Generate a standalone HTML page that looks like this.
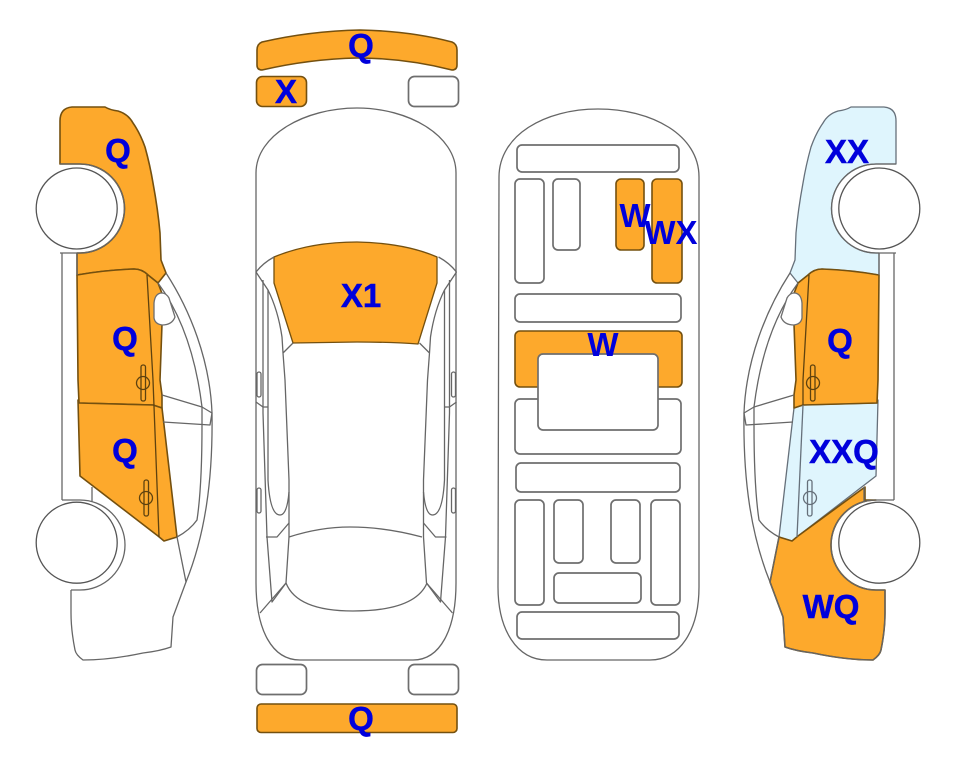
<!DOCTYPE html>
<html>
<head>
<meta charset="utf-8">
<style>
html,body{margin:0;padding:0;background:#fff;}
svg{display:block;}
text{font-family:"Liberation Sans",sans-serif;font-weight:bold;font-size:33px;fill:#0000dc;stroke:#0000dc;stroke-width:.5;text-anchor:middle;}
text.t{stroke-width:0;}
.l{fill:none;stroke:#666;stroke-width:1.3;stroke-linejoin:round;}
.w{fill:#fff;stroke:#6e6e6e;stroke-width:1.7;}
.o{fill:#fda92c;stroke:#74500f;stroke-width:1.6;stroke-linejoin:round;}
.b{fill:#dff5fd;stroke:#66707a;stroke-width:1.3;stroke-linejoin:round;}
.dk{fill:none;stroke:#5e420f;stroke-width:1.3;}
.gr{fill:none;stroke:#66707a;stroke-width:1.3;}
</style>
</head>
<body>
<svg width="963" height="768" viewBox="0 0 963 768" xmlns="http://www.w3.org/2000/svg">
<defs>
  <path id="fender" d="M60 164V121Q60 108 72 107L105 107Q110 110 118 111Q128 114 133 123Q140 133 145 147Q150 165 153 183Q158 210 160 233L161 260L166 273L158 283L148 275Q142 269 134 269Q105 270 77 275V253H80A44.5 44.5 0 0 0 80 164Z"/>
  <path id="door1" d="M77 275Q105 270 134 269Q142 269 148 275L158 283L163 296L160 380L162 395L162 408L153 405L79 403L78 380Z"/>
  <path id="door2" d="M79 403L153 405L162 408L164 425L177 537L164 541L158 536L80 476L78 400Z"/>
  <path id="quarter" d="M177 537L186 582L173 617L171 647Q160 651 143 653Q110 660 83 660Q76 655 75 650Q71 630 71 613V590H80A45 45 0 0 0 80 500H91V487L158 536L164 541Z" />
  <g id="handle1"><rect x="141" y="365" width="4.5" height="36" rx="2"/><circle cx="143" cy="383" r="6.5"/></g>
  <g id="handle2"><rect x="144" y="480" width="4.500" height="36" rx="2"/><circle cx="146" cy="498" r="6.500"/></g>
  <g id="sideart">
    <path class="l" d="M166 273C190 310 210 360 212 413C213 480 205 535 186 582"/>
    <path class="l" d="M158 283C178 310 195 350 202 407V425C202 470 200 500 197 520Q190 530 177 537"/>
    <path class="l" d="M177 537L186 582L173 617L171 647Q160 651 143 653Q110 660 83 660Q76 655 75 650Q71 630 71 613V590"/>
    <path class="l" d="M162 395L202 407L212 413L210 425L163 422"/>
    <path class="l" d="M92 487V502"/>
    <path class="l" d="M62 253V500M77 253V275"/>
    <path class="w" style="stroke-width:1.3" d="M154 303Q155 293 162 293Q166 293 169 298L175 317Q172 325 162 325Q155 324 154 318Z"/>
    <path class="l" d="M60 164H80A44.5 44.5 0 0 1 80 253H60"/>
    <path class="l" d="M62 500H80A45 45 0 0 1 80 590H71"/>
    <circle cx="76.700" cy="208.500" r="40.500" fill="#fff" stroke="#555" stroke-width="1.300"/>
    <circle cx="76.700" cy="542.700" r="40.500" fill="#fff" stroke="#555" stroke-width="1.300"/>
  </g>
  <g id="tophalf">
    <path class="l" d="M256 272Q263 263 274 257"/>
    <path class="l" d="M256 272L268 290Q278 310 282 337L283 353L293 343M283 353L285 380L289 480V537L286 583L260 613"/>
    <path class="l" d="M286 583L272 602L267 537L263 413V280"/>
    <path class="l" d="M268 290V480Q270 515 280 515Q287 515 289 492"/>
    <path class="l" d="M256 402L263 407H268"/>
    <path class="l" d="M266 537H277L289 523"/>
    <rect class="l" x="257" y="372" width="4" height="25" rx="2"/>
    <rect class="l" x="257" y="488" width="4" height="25" rx="2"/>
  </g>
</defs>

<!-- left car -->
<use href="#fender" class="o"/>
<use href="#door1" class="o"/>
<use href="#door2" class="o"/>
<path class="dk" d="M147 275L153 380L159 537"/>
<use href="#handle1" class="dk"/>
<use href="#handle2" class="dk"/>
<use href="#sideart"/>

<!-- right car -->
<g transform="matrix(-1 0 0 1 956 0)">
  <use href="#fender" class="b"/>
  <use href="#door2" class="b"/>
  <use href="#quarter" class="o"/>
  <use href="#door1" class="o"/>
  <path class="dk" d="M147 275L153 380L153 405"/>
  <path class="gr" d="M153 405L159 537"/>
  <use href="#handle1" class="dk"/>
  <use href="#handle2" class="gr"/>
  <use href="#sideart"/>
</g>

<!-- top view -->
<path class="o" d="M257 50Q257 44 262 42Q310 31 360 30Q410 31 452 42Q457 44 457 50V65Q457 70 452 70Q405 58 357 58Q310 59 262 70Q257 70 257 65Z"/>
<rect class="o" x="256.500" y="76.500" width="50" height="30" rx="6"/>
<rect class="w" x="408.500" y="76.500" width="50" height="30" rx="6"/>
<path class="l" d="M256 173C256 135 305 108 357 108C408 108 456 135 456 173V583C456 630 440 660 413 660H300C272 660 256 630 256 583Z"/>
<path class="o" style="stroke-width:1.3" d="M274 257Q310 242 357 242Q405 243 437 257V283L418 344Q390 342 357 342L293 343L274 283Z"/>
<use href="#tophalf"/>
<g transform="matrix(-1 0 0 1 712.500 0)"><use href="#tophalf"/></g>
<path class="l" d="M289 537Q320 527 350 527Q385 527 422 537"/>
<path class="l" d="M286 583Q297 611 353 611Q415 611 427 583"/>
<rect class="w" x="256.500" y="664.500" width="50" height="30" rx="6"/>
<rect class="w" x="408.500" y="664.500" width="50" height="30" rx="6"/>
<rect class="o" x="257" y="704" width="200" height="28.500" rx="4"/>

<!-- interior view -->
<path class="l" d="M499 177C499 135 545 109 598 109C652 109 699 135 699 177V587C699 630 680 660 650 660H547C517 660 498 630 498 587Z"/>
<rect class="w" x="517" y="145" width="162" height="27" rx="5"/>
<rect class="w" x="515" y="179" width="29" height="104" rx="5"/>
<rect class="w" x="553" y="179" width="27" height="71" rx="5"/>
<rect class="o" x="616" y="179" width="28" height="71" rx="5"/>
<rect class="o" x="652" y="179" width="30" height="104" rx="5"/>
<rect class="w" x="515" y="294" width="166" height="28" rx="5"/>
<rect class="o" x="515" y="331" width="167" height="56" rx="5"/>
<rect class="w" x="515" y="399" width="166" height="55" rx="5"/>
<rect class="w" x="538" y="354" width="120" height="76" rx="5"/>
<rect class="w" x="516" y="463" width="164" height="29" rx="5"/>
<rect class="w" x="515" y="500" width="29" height="105" rx="5"/>
<rect class="w" x="554" y="500" width="29" height="63" rx="5"/>
<rect class="w" x="611" y="500" width="29" height="63" rx="5"/>
<rect class="w" x="651" y="500" width="29" height="105" rx="5"/>
<rect class="w" x="554" y="573" width="87" height="30" rx="5"/>
<rect class="w" x="517" y="612" width="162" height="27" rx="5"/>

<!-- labels -->
<text x="118" y="162">Q</text>
<text x="125" y="350">Q</text>
<text x="125" y="462">Q</text>
<text x="361" y="57">Q</text>
<text x="286" y="103">X</text>
<text x="361" y="307">X1</text>
<text x="361" y="730">Q</text>
<text class="t" x="635" y="227">W</text>
<text class="t" x="671" y="244">WX</text>
<text class="t" x="603" y="356">W</text>
<text x="847" y="163">XX</text>
<text x="840" y="352">Q</text>
<text x="844" y="463">XXQ</text>
<text x="831" y="618">WQ</text>
</svg>
</body>
</html>
